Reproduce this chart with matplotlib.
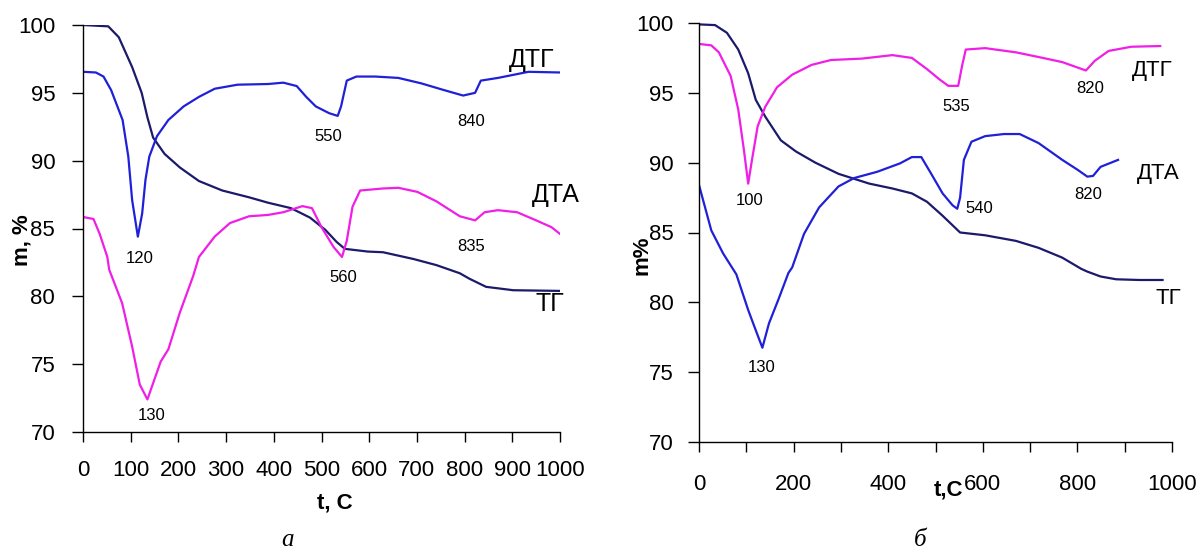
import matplotlib
matplotlib.use('Agg')
import matplotlib.pyplot as plt
import numpy as np

plt.rcParams['font.family'] = ['Liberation Sans', 'DejaVu Sans']

W, H = 1204, 553

navy = '#1c1a6b'
blue = '#2020d8'
magenta = '#f01ee6'

# ---- panel a ----
a_tg_t = [0, 53, 75, 103, 123, 135, 147, 171, 203, 243, 292, 348, 388, 436, 476, 508, 532, 549,
          597, 629, 693, 741, 790, 810, 845, 902, 1000]
a_tg_v = [100, 99.9, 99.1, 96.9, 95.0, 93.2, 91.7, 90.5, 89.5, 88.5, 87.8, 87.3, 86.9, 86.5, 85.8,
          84.9, 84.0, 83.5, 83.3, 83.25, 82.75, 82.3, 81.7, 81.3, 80.7, 80.45, 80.4]

a_dtg_t = [0, 27, 43, 59, 83, 95, 103, 115, 124, 131, 139, 155, 179, 211, 243, 276, 324, 388, 420,
           448, 468, 488, 516, 534, 541, 553, 573, 613, 661, 709, 757, 797, 822, 834, 870, 934, 1000]
a_dtg_v = [96.55, 96.5, 96.2, 95.2, 93.0, 90.3, 87.1, 84.4, 86.1, 88.6, 90.3, 91.8, 93.0, 94.0,
           94.7, 95.3, 95.6, 95.65, 95.75, 95.5, 94.7, 94.0, 93.5, 93.3, 94.0, 95.9, 96.2, 96.2,
           96.1, 95.7, 95.2, 94.8, 95.0, 95.9, 96.1, 96.55, 96.5]

a_dta_t = [0, 22, 35, 51, 55, 82, 103, 119, 135, 147, 163, 179, 203, 231, 243, 276, 308, 348, 388,
           420, 460, 480, 500, 525, 543, 553, 565, 581, 629, 661, 701, 741, 790, 822, 842, 870, 910,
           950, 982, 1000]
a_dta_v = [85.85, 85.7, 84.6, 82.9, 81.96, 79.5, 76.3, 73.5, 72.4, 73.6, 75.2, 76.1, 78.8, 81.5,
           82.9, 84.4, 85.4, 85.9, 86.0, 86.2, 86.65, 86.5, 85.1, 83.65, 82.9, 84.1, 86.6, 87.8,
           87.95, 88.0, 87.7, 87.0, 85.9, 85.6, 86.2, 86.35, 86.2, 85.6, 85.1, 84.6]

a_peaks = [('120', 119, 82.8), ('130', 143, 71.25), ('550', 515, 91.75), ('840', 814, 92.9),
           ('560', 546, 81.4), ('835', 814, 83.7)]
a_names = [('ДТГ', 893, 97.4), ('ДТА', 940, 87.5), ('ТГ', 948, 79.4)]

# ---- panel b ----
b_tg_t = [0, 34, 59, 83, 104, 120, 140, 173, 205, 246, 295, 360, 409, 450, 482, 515, 552, 605, 670,
          718, 768, 808, 821, 849, 882, 931, 980]
b_tg_v = [99.9, 99.85, 99.3, 98.1, 96.4, 94.5, 93.3, 91.6, 90.8, 90.0, 89.2, 88.5, 88.15, 87.8,
          87.2, 86.2, 85.0, 84.8, 84.4, 83.9, 83.2, 82.4, 82.2, 81.85, 81.65, 81.6, 81.6]

b_dtg_t = [0, 26, 42, 67, 83, 95, 104, 112, 124, 140, 165, 197, 238, 279, 344, 409, 450, 482, 507,
           527, 548, 556, 564, 605, 670, 727, 768, 818, 837, 866, 914, 975]
b_dtg_v = [98.5, 98.4, 97.9, 96.2, 93.8, 90.9, 88.5, 90.2, 92.6, 94.0, 95.4, 96.3, 97.0, 97.35,
           97.45, 97.7, 97.5, 96.7, 96.0, 95.5, 95.5, 96.9, 98.1, 98.2, 97.9, 97.5, 97.2, 96.6,
           97.3, 98.0, 98.3, 98.35]

b_dta_t = [0, 26, 51, 79, 104, 120, 134, 148, 169, 189, 197, 222, 254, 295, 328, 377, 425, 450, 470,
           491, 515, 536, 546, 552, 560, 576, 605, 645, 678, 718, 768, 800, 821, 833, 849, 886]
b_dta_v = [88.4, 85.15, 83.5, 82.0, 79.45, 78.0, 76.75, 78.5, 80.3, 82.1, 82.5, 84.9, 86.8, 88.3,
           88.9, 89.35, 89.95, 90.4, 90.4, 89.2, 87.8, 86.95, 86.7, 87.5, 90.2, 91.5, 91.9, 92.05,
           92.05, 91.4, 90.2, 89.5, 89.0, 89.05, 89.7, 90.2]

b_peaks = [('100', 106, 87.3), ('535', 544, 94.0), ('820', 826, 95.3), ('540', 592, 86.7),
           ('820', 823, 87.7), ('130', 132, 75.3)]
b_names = [('ДТГ', 915, 96.6), ('ДТА', 925, 89.2), ('ТГ', 965, 80.3)]


def px_axes(fig, x0, x1, ytop, ybot):
    return fig.add_axes([x0 / W, 1 - ybot / H, (x1 - x0) / W, (ybot - ytop) / H])


def style_axes(ax, xpad, ypad):
    for s in ['top', 'right']:
        ax.spines[s].set_visible(False)
    for s in ['left', 'bottom']:
        ax.spines[s].set_linewidth(1.0)
    ax.set_ylim(70, 100)
    ax.set_xlim(0, 1000)
    ax.set_yticks(range(70, 101, 5))
    ax.tick_params(axis='x', direction='out', length=7, width=1, labelsize=16, pad=xpad)
    ax.tick_params(axis='y', direction='out', length=8, width=1, labelsize=16, pad=ypad)
    ax.tick_params(which='minor', direction='out', length=7, width=1)


fig = plt.figure(figsize=(W / 100, H / 100), dpi=100)

ax1 = px_axes(fig, 83, 560, 25, 432)
style_axes(ax1, 13, 12)
ax1.set_xticks(range(0, 1001, 100))
ax1.plot(a_tg_t, a_tg_v, color=navy, lw=1.6)
ax1.plot(a_dtg_t, a_dtg_v, color=blue, lw=1.6)
ax1.plot(a_dta_t, a_dta_v, color=magenta, lw=1.6)
for s, t, v in a_peaks:
    ax1.text(t, v, s, fontsize=12, ha='center', va='center')
for s, t, v in a_names:
    ax1.text(t, v, s, fontsize=18, ha='left', va='center', clip_on=False)

ax2 = px_axes(fig, 699, 1172, 23, 442)
style_axes(ax2, 16, 10)
ax2.set_xticks(range(0, 1001, 200))
ax2.set_xticks(range(100, 1000, 200), minor=True)
ax2.plot(b_tg_t, b_tg_v, color=navy, lw=1.6)
ax2.plot(b_dtg_t, b_dtg_v, color=magenta, lw=1.6)
ax2.plot(b_dta_t, b_dta_v, color=blue, lw=1.6)
for s, t, v in b_peaks:
    ax2.text(t, v, s, fontsize=12, ha='center', va='center')
for s, t, v in b_names:
    ax2.text(t, v, s, fontsize=16, ha='left', va='center', clip_on=False)

# axis titles and captions
fig.text(335 / W, 1 - 503 / H, 't, C', fontsize=16, fontweight='bold', ha='center', va='center')
fig.text(22 / W, 1 - 240 / H, 'm, %', fontsize=16, fontweight='bold', ha='center', va='center',
         rotation=90)
fig.text(948 / W, 1 - 490 / H, 't,C', fontsize=16, fontweight='bold', ha='center', va='center')
fig.text(642 / W, 1 - 255 / H, 'm%', fontsize=16, fontweight='bold', ha='center', va='center',
         rotation=90)
fig.text(287 / W, 1 - 540 / H, 'а', fontsize=18, style='italic', family='Liberation Serif',
         ha='center', va='center')
fig.text(920 / W, 1 - 540 / H, 'б', fontsize=18, style='italic', family='Liberation Serif',
         ha='center', va='center')

fig.savefig('out.png', dpi=100)
